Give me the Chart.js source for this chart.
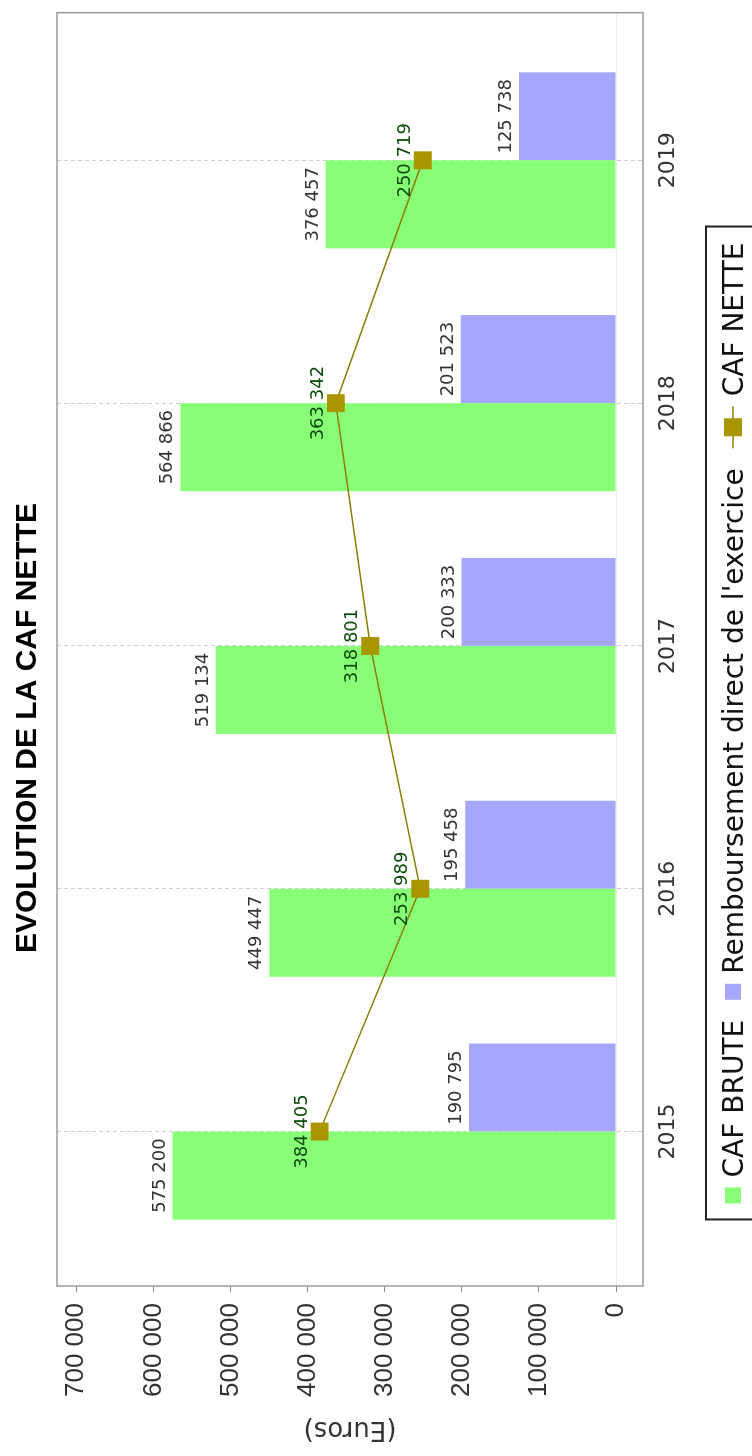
<!DOCTYPE html>
<html>
<head>
<meta charset="utf-8">
<script src="https://cdn.jsdelivr.net/npm/chart.js@4.4.1/dist/chart.umd.min.js"></script>
<style>
  html, body { margin: 0; padding: 0; background: #fff; }
  body { width: 752px; height: 1456px; overflow: hidden; position: relative; }
  /* the chart is drawn landscape, then turned a quarter left like the reference */
  #wrap { position: absolute; left: 0; top: 0; width: 1456px; height: 752px;
          transform-origin: 0 0; transform: translateY(1456px) rotate(-90deg); }
</style>
</head>
<body>
<div id="wrap"><canvas id="chart" width="1456" height="752"></canvas></div>
<script>
const years = [2015, 2016, 2017, 2018, 2019];
const cafBrute = [575200, 449447, 519134, 564866, 376457];
const remboursement = [190795, 195458, 200333, 201523, 125738];
const cafNette = [384405, 253989, 318801, 363342, 250719];
const valueTicks = [0, 100000, 200000, 300000, 400000, 500000, 600000, 700000];

const GREEN = '#88ff77';
const BLUE = '#a6a6fb';
const OLIVE = '#a89500';
const OLIVE_LINE = '#8c7e08';

const fmt = v => String(v).replace(/\B(?=(\d{3})+(?!\d))/g, ' ');
const points = arr => years.map((y, i) => ({ x: y, y: arr[i] }));

// grey frame around the plot area
const frame = {
  id: 'frame',
  afterDraw(chart) {
    const { ctx, chartArea: a } = chart;
    ctx.save();
    ctx.strokeStyle = '#9a9a9a';
    ctx.lineWidth = 1.5;
    ctx.strokeRect(a.left, a.top, a.right - a.left, a.bottom - a.top);
    ctx.restore();
  }
};

// value labels over bars and points
const valueLabels = {
  id: 'valueLabels',
  afterDatasetsDraw(chart) {
    const ctx = chart.ctx;
    ctx.save();
    ctx.font = '18px "DejaVu Sans"';
    ctx.textAlign = 'center';
    ctx.textBaseline = 'alphabetic';
    chart.data.datasets.forEach((ds, di) => {
      const meta = chart.getDatasetMeta(di);
      meta.data.forEach((el, i) => {
        const v = ds.data[i].y;
        if (ds.type === 'line') {
          ctx.fillStyle = '#0b4a0b';
          ctx.fillText(fmt(v), el.x, el.y - 13);
        } else {
          ctx.fillStyle = '#333';
          ctx.fillText(fmt(v), el.x, el.y - 8);
        }
      });
    });
    ctx.restore();
  }
};

// boxed legend under the plot, cut by the bottom edge
const legendBox = {
  id: 'legendBox',
  afterDraw(chart) {
    const ctx = chart.ctx;
    ctx.save();
    ctx.font = '28px "DejaVu Sans"';
    const sq = 16, lineW = 42, gapIn = 10, gapOut = 20, pad = 16;
    const items = chart.data.datasets.map(ds => ({
      ds, mark: ds.type === 'line' ? lineW : sq, w: ctx.measureText(ds.label).width
    }));
    let total = pad * 2;
    items.forEach((it, i) => {
      total += it.mark + gapIn + it.w + (i < items.length - 1 ? gapOut : 0);
    });
    let x = chart.width / 2 - total / 2 + 5;
    const top = 706, base = 743, mid = base - 10;
    ctx.strokeStyle = '#222';
    ctx.lineWidth = 2;
    ctx.strokeRect(x, top, total, 120);
    x += pad;
    ctx.textBaseline = 'alphabetic';
    ctx.textAlign = 'left';
    items.forEach(it => {
      if (it.ds.type === 'line') {
        ctx.strokeStyle = OLIVE_LINE;
        ctx.lineWidth = 1.5;
        ctx.beginPath();
        ctx.moveTo(x, mid);
        ctx.lineTo(x + lineW, mid);
        ctx.stroke();
        ctx.fillStyle = OLIVE;
        ctx.fillRect(x + lineW / 2 - 9, mid - 9, 18, 18);
      } else {
        ctx.fillStyle = it.ds.backgroundColor;
        ctx.fillRect(x, mid - sq / 2, sq, sq);
      }
      x += it.mark + gapIn;
      ctx.fillStyle = '#111';
      ctx.fillText(it.ds.label, x, base);
      x += it.w + gapOut;
    });
    ctx.restore();
  }
};

new Chart(document.getElementById('chart'), {
  type: 'bar',
  data: {
    datasets: [
      { label: 'CAF BRUTE', data: points(cafBrute), backgroundColor: GREEN, order: 1 },
      { label: "Remboursement direct de l'exercice", data: points(remboursement), backgroundColor: BLUE, order: 1 },
      {
        type: 'line', label: 'CAF NETTE', data: points(cafNette), order: 0,
        borderColor: OLIVE_LINE, borderWidth: 1.5, tension: 0,
        pointStyle: 'rect', pointRadius: 12.7, pointBackgroundColor: OLIVE,
        pointBorderWidth: 0, pointHoverRadius: 12.7
      }
    ]
  },
  options: {
    responsive: false,
    animation: false,
    devicePixelRatio: 1,
    categoryPercentage: 0.725,
    barPercentage: 1,
    layout: { padding: 0 },
    plugins: {
      legend: { display: false },
      tooltip: { enabled: false },
      title: {
        display: true,
        text: 'EVOLUTION DE LA CAF NETTE',
        color: '#000',
        font: { family: '"Liberation Sans"', weight: 'bold', size: 30 },
        padding: { top: 10, bottom: 11 }
      }
    },
    scales: {
      x: {
        type: 'linear',
        min: 2014.364,
        max: 2019.608,
        offset: false,
        afterBuildTicks: axis => { axis.ticks = years.map(v => ({ value: v })); },
        afterFit: axis => { axis.height = 109; },
        border: { display: false, dash: [4, 3] },
        grid: { offset: false, color: '#cdcdcd', lineWidth: 1, drawTicks: false },
        ticks: {
          padding: 12,
          autoSkip: false,
          maxRotation: 0,
          color: '#333',
          font: { family: '"DejaVu Sans"', size: 22 },
          callback: v => String(v)
        }
      },
      y: {
        min: -35000,
        max: 725000,
        afterBuildTicks: axis => { axis.ticks = valueTicks.map(v => ({ value: v })); },
        afterFit: axis => { axis.width = 170; },
        border: { display: false },
        grid: {
          color: c => (c.tick && c.tick.value === 0 ? '#ececec' : 'rgba(0,0,0,0)'),
          tickColor: '#8a8a8a',
          tickLength: 6
        },
        ticks: {
          padding: 11,
          color: '#333',
          font: { family: '"Liberation Sans"', size: 26 },
          callback: v => fmt(v)
        },
        title: {
          display: true,
          text: '(Euros)',
          color: '#333',
          font: { family: '"DejaVu Sans"', size: 26 },
          padding: { top: 12, bottom: 0 }
        }
      }
    }
  },
  plugins: [frame, valueLabels, legendBox]
});
</script>
</body>
</html>
